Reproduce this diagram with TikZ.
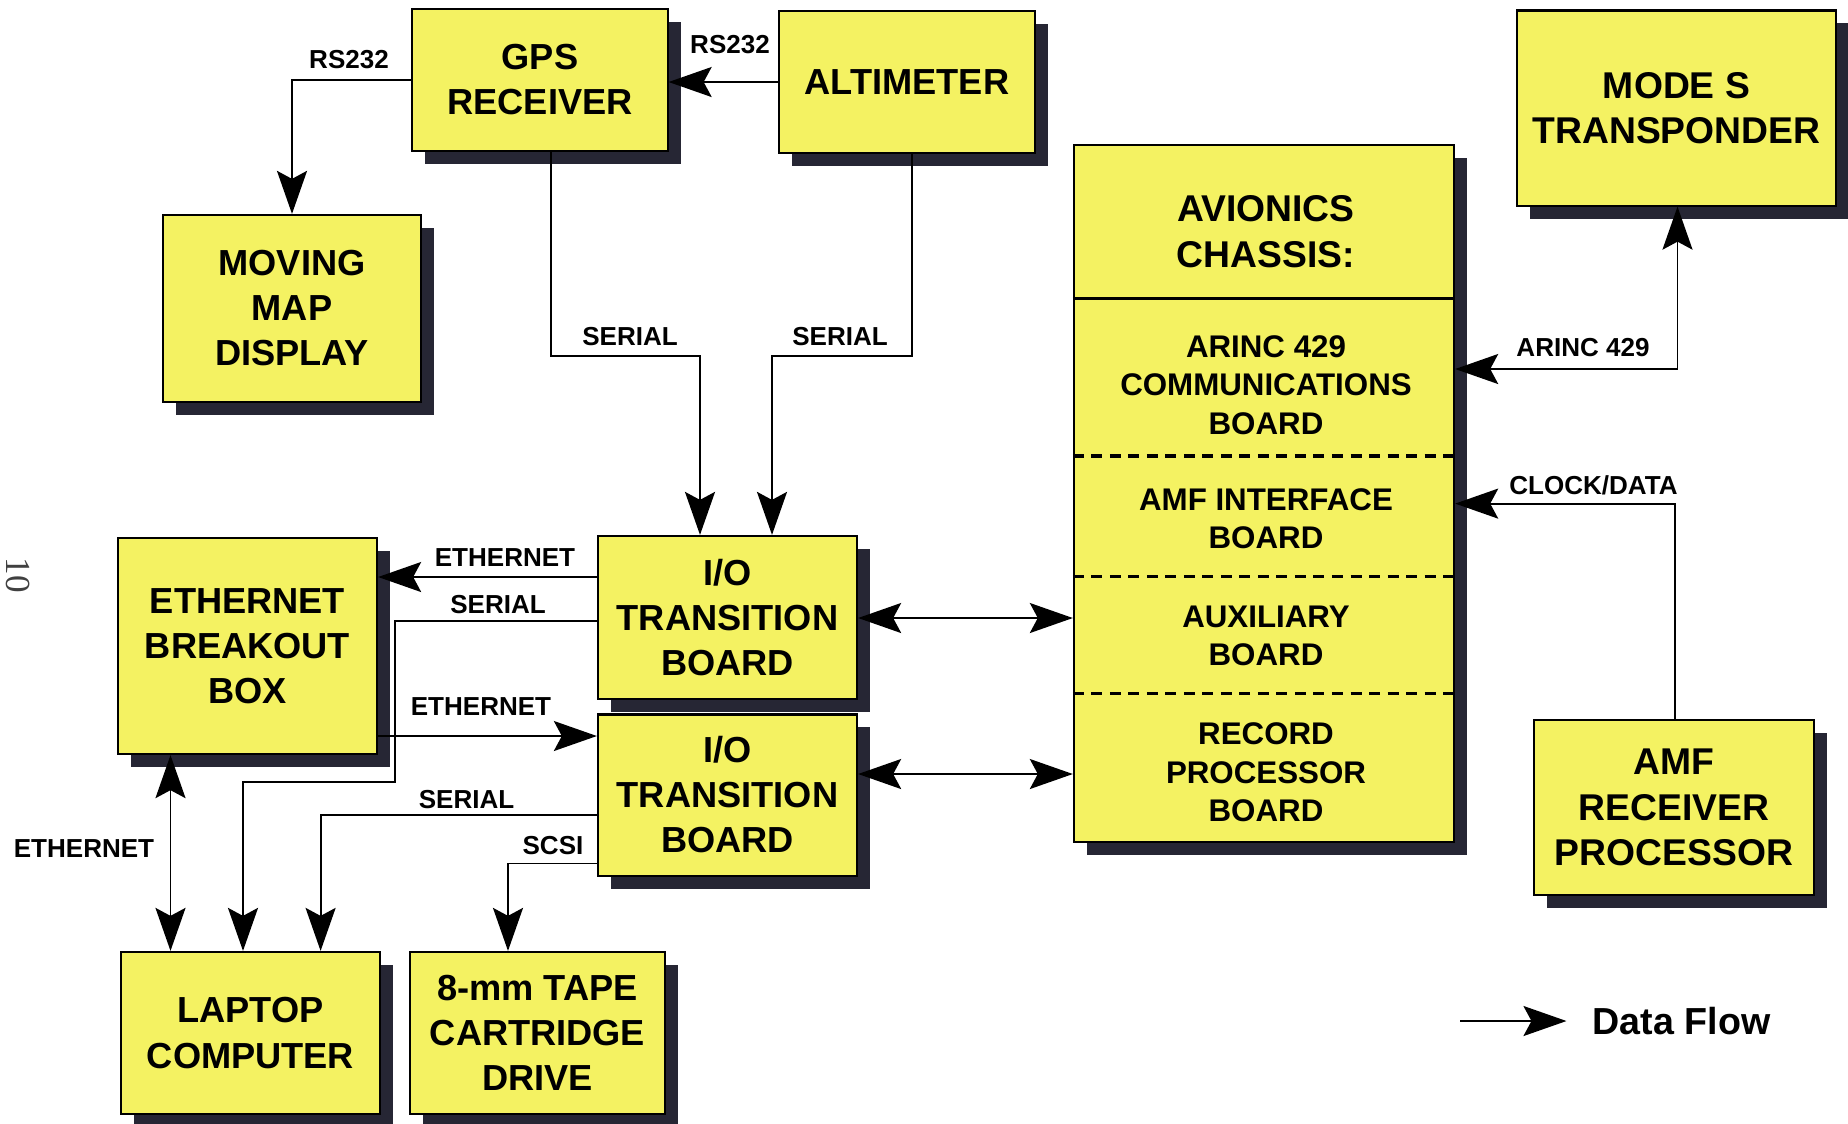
\documentclass[tikz,border=0pt]{standalone}
\usepackage{fontspec}
\setmainfont{Liberation Sans}
\newfontfamily\pgfont{Liberation Serif}
\usetikzlibrary{arrows.meta,shadows}
\definecolor{boxyellow}{RGB}{244,242,98}
\definecolor{shadowgray}{RGB}{38,38,52}
\tikzset{box/.style={draw,line width=0.6pt,fill=boxyellow,align=center,inner sep=0pt,
    font=\bfseries\fontsize{10.3}{12.8}\selectfont,
    drop shadow={shadow xshift=0.13cm,shadow yshift=-0.13cm,fill=shadowgray,opacity=1}},
  wide/.style={font=\bfseries\fontsize{10.6}{12.9}\selectfont},
  brd/.style={align=center,inner sep=0pt,font=\bfseries\fontsize{8.9}{10.9}\selectfont},
  tag/.style={inner sep=0pt,font=\bfseries\fontsize{7.4}{9}\selectfont},
  flow/.style={line width=0.55pt,->},
  both/.style={line width=0.55pt,<->}}

\begin{document}
\begin{tikzpicture}[x=0.01cm,y=-0.01cm,>={Stealth[length=0.43cm,width=0.3cm,inset=0.08cm]}]
\useasboundingbox (0,0) rectangle (1848,1123);
\node[rotate=-90,inner sep=0pt,font=\pgfont\fontsize{10}{10}\selectfont,text=black!75] (pgno) at (18,575) {10};

\node[box,minimum width=2.55cm,minimum height=1.42cm] (gps) at (540,80) {GPS\\RECEIVER};
\node[box,minimum width=2.56cm,minimum height=1.42cm] (alt) at (907,82) {ALTIMETER};
\node[box,wide,minimum width=3.19cm,minimum height=1.95cm] (modes) at (1676.5,108) {MODE S\\TRANSPONDER};
\node[box,minimum width=2.58cm,minimum height=1.87cm] (map) at (292,308.5) {MOVING\\MAP\\DISPLAY};
\node[box,minimum width=2.59cm,minimum height=2.16cm] (ebb) at (247.5,646) {ETHERNET\\BREAKOUT\\BOX};
\node[box,minimum width=2.59cm,minimum height=1.63cm] (io1) at (727.5,617.5) {I/O\\TRANSITION\\BOARD};
\node[box,minimum width=2.59cm,minimum height=1.61cm] (io2) at (727.5,795) {I/O\\TRANSITION\\BOARD};
\node[box,minimum width=2.59cm,minimum height=1.62cm] (lap) at (250.5,1033) {LAPTOP\\COMPUTER};
\node[box,minimum width=2.55cm,minimum height=1.62cm] (tape) at (537.5,1033) {8-mm TAPE\\CARTRIDGE\\DRIVE};
\node[box,wide,minimum width=2.80cm,minimum height=1.75cm] (amfrp) at (1674,807.5) {AMF\\RECEIVER\\PROCESSOR};

\node[box,minimum width=3.80cm,minimum height=6.96cm] (av) at (1264,493.5) {};
\draw[line width=0.7pt] (av.west |- 0,298.7) -- (av.east |- 0,298.7);
\foreach \y in {456,576.6,693.4}
  \draw[line width=0.9pt,dash pattern=on 0.11cm off 0.075cm] (av.west |- 0,\y) -- (av.east |- 0,\y);
\node[brd,wide] (avhd) at (1266,231.5) {AVIONICS\\CHASSIS:};
\node[brd] (arinc) at (1266,385) {ARINC 429\\COMMUNICATIONS\\BOARD};
\node[brd] (amfif) at (1266,519) {AMF INTERFACE\\BOARD};
\node[brd] (aux) at (1266,636) {AUXILIARY\\BOARD};
\node[brd] (rec) at (1266,772.5) {RECORD\\PROCESSOR\\BOARD};

\draw[flow] (gps.west) -| (map.north);
\draw[flow] (alt.west |- 0,82) -- (gps.east |- 0,82);
\draw[flow] (gps.south -| 551,0) |- (700,356) -- (io1.north -| 700,0);
\draw[flow] (alt.south -| 912,0) |- (772,356) -- (io1.north -| 772,0);
\draw[flow] (io1.west |- 0,577) -- (ebb.east |- 0,577);
\draw[flow] (io1.west |- 0,621) -| (395,782) -| (lap.north -| 243,0);
\draw[flow] (ebb.east |- 0,736) -- (io2.west |- 0,736);
\draw[flow] (io2.west |- 0,815) -| (lap.north -| 320.6,0);
\draw[flow] (io2.west |- 0,863.5) -| (tape.north -| 508,0);
\draw[both] (ebb.south -| 170.5,0) -- (lap.north -| 170.5,0);
\draw[both] (io1.east |- 0,618) -- (av.west |- 0,618);
\draw[both] (io2.east |- 0,774) -- (av.west |- 0,774);
\draw[both] (av.east |- 0,369) -| (modes.south -| 1677.5,0);
\draw[flow] (amfrp.north -| 1675,0) |- (av.east |- 0,503.6);

\node[tag] (rs1) at (349,60) {RS232};
\node[tag] (rs2) at (730,45) {RS232};
\node[tag] (se1) at (630,337) {SERIAL};
\node[tag] (se2) at (840,337) {SERIAL};
\node[tag] (et1) at (505,558) {ETHERNET};
\node[tag] (se3) at (498,605) {SERIAL};
\node[tag] (et2) at (481,707) {ETHERNET};
\node[tag] (se4) at (466.5,800) {SERIAL};
\node[tag] (scsi) at (553,846) {SCSI};
\node[tag] (et3) at (84,849) {ETHERNET};
\node[tag] (ar) at (1583,347.5) {ARINC 429};
\node[tag] (ck) at (1593.5,485.7) {CLOCK/DATA};

\coordinate (lgs) at (1460,1021);
\node[anchor=west,inner sep=0pt,font=\bfseries\fontsize{10.7}{12}\selectfont] (legend) at (1592,1021) {Data Flow};
\draw[flow] (lgs) -- ([xshift=-0.255cm]legend.west);
\end{tikzpicture}
\end{document}
